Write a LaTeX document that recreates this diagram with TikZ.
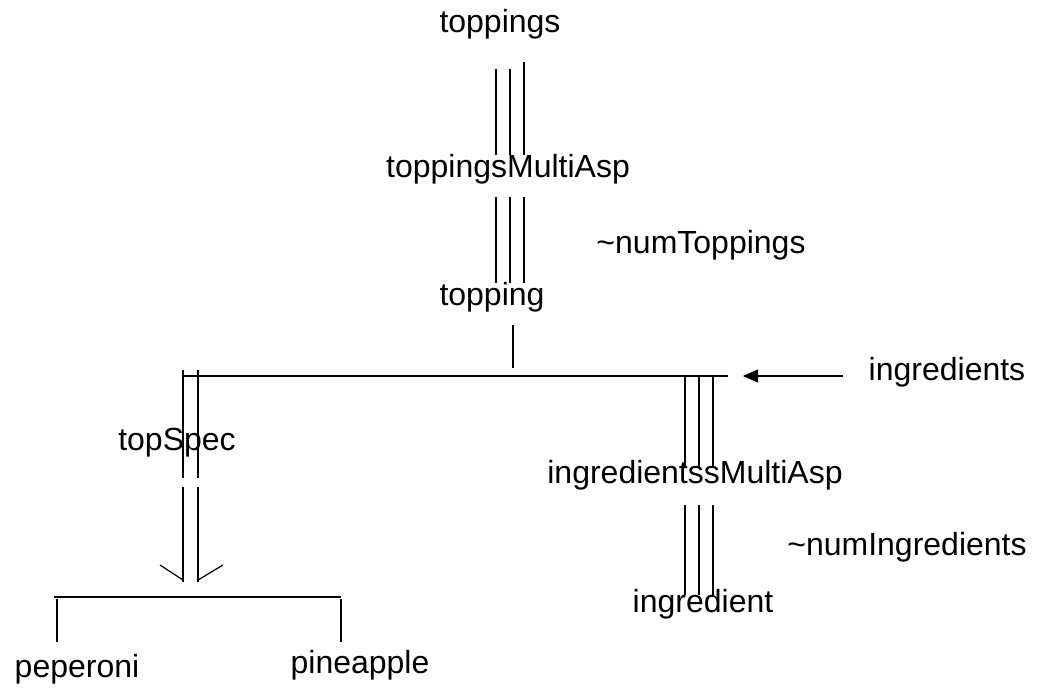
\documentclass[tikz,border=0pt]{standalone}
\usepackage{fontspec}
\setmainfont{Liberation Sans}
\usetikzlibrary{arrows.meta}
\tikzstyle{lbl} = [inner sep=0pt, anchor=base, font=\fontsize{32}{38}\selectfont]
\tikzstyle{ln} = [line width=1.2pt]

\begin{document}
\begin{tikzpicture}[x=1pt, y=-1pt]
\useasboundingbox (0,0) rectangle (1039,690);
\node [lbl] (toppings) at (500,33) {toppings};
\node [lbl] (toppingsMultiAsp) at (508,178) {toppingsMultiAsp};
\node [lbl] (numToppings) at (701,253) {\textasciitilde numToppings};
\node [lbl] (topping) at (492,305) {topping};
\node [lbl] (ingredients) at (947,380) {ingredients};
\node [lbl] (topSpec) at (177,450) {topSpec};
\node [lbl] (ingredientsMultiAsp) at (695,483) {ingredientssMultiAsp};
\node [lbl] (numIngredients) at (907,555) {\textasciitilde numIngredients};
\node [lbl] (ingredient) at (703,612) {ingredient};
\node [lbl] (peperoni) at (77,677) {peperoni};
\node [lbl] (pineapple) at (360,673) {pineapple};

% bars
\coordinate (barL) at (183,376);
\coordinate (barR) at (728,376);
\coordinate (subL) at (54,597);
\coordinate (subR) at (341,597);
\coordinate (arrFrom) at (843,376);
\coordinate (arrTo) at (743,376);
\draw [ln] (barL) -- (barR);
\draw [ln] (subL) -- (subR);
\draw [ln, -{Triangle[length=15pt, width=13pt]}] (arrFrom) -- (arrTo);

% toppings -> toppingsMultiAsp -> topping
\foreach \x/\y in {496/69, 510/69, 524/62}
  \draw [ln] (\x,\y) -- (\x,155);
\foreach \x in {496, 510, 524}
  \draw [ln] (\x,197) -- (\x,283);
\draw [ln] (513,325) -- (513,368);

% topSpec
\foreach \x in {183, 198}
  {\draw [ln] (\x,370) -- (\x,478);
   \draw [ln] (\x,487) -- (\x,582);}
\draw [ln] (160,565) -- (183,580);
\draw [ln] (223,565) -- (198,580);
\draw [ln] (57,599) -- (57,642);
\draw [ln] (341,599) -- (341,642);

% ingredientssMultiAsp -> ingredient
\foreach \x in {685, 699, 713}
  {\draw [ln] (\x,376) -- (\x,467);
   \draw [ln] (\x,505) -- (\x,595);}
\end{tikzpicture}
\end{document}
